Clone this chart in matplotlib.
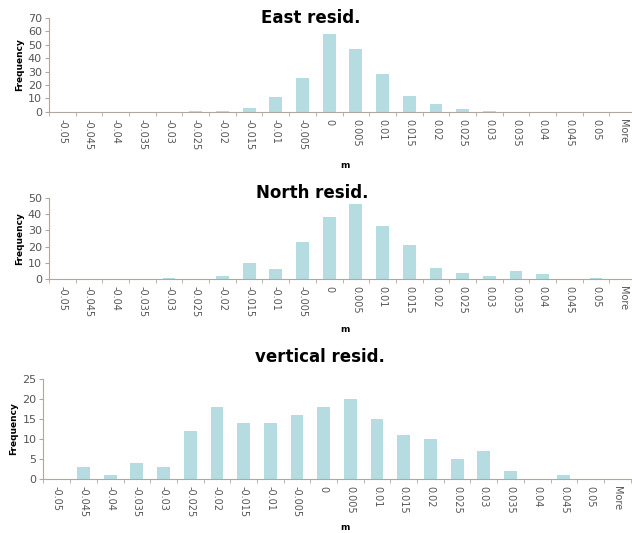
import numpy as np
import matplotlib.pyplot as plt

bins = ['-0.05', '-0.045', '-0.04', '-0.035', '-0.03', '-0.025', '-0.02',
        '-0.015', '-0.01', '-0.005', '0', '0.005', '0.01', '0.015', '0.02',
        '0.025', '0.03', '0.035', '0.04', '0.045', '0.05', 'More']

east = [0, 0, 0, 0, 0, 1, 0.5, 3, 11, 25, 58, 47, 28, 12, 6, 2, 1, 0, 0, 0, 0, 0]
north = [0, 0, 0, 0, 0.5, 0, 2, 10, 6, 23, 38, 46, 33, 21, 7, 4, 2, 5, 3, 0, 0.5, 0]
vert = [0, 3, 1, 4, 3, 12, 18, 14, 14, 16, 18, 20, 15, 11, 10, 5, 7, 2, 0, 1, 0, 0]

titles = ['East resid.', 'North resid.', 'vertical resid.']
ymax = [70, 50, 25]
ystep = [10, 10, 5]

bar_color = '#b5dde1'
axis_color = '#b0a8a0'
text_color = '#555555'

fig = plt.figure(figsize=(6.32, 5.33), dpi=100)

# axes rectangles, title and "m" label positions (figure fractions)
rects = [[0.0775, 0.790, 0.929, 0.1764],
         [0.0775, 0.4765, 0.929, 0.152],
         [0.0688, 0.1013, 0.929, 0.1876]]
title_xy = [(0.491, 0.966), (0.494, 0.638), (0.506, 0.330)]
m_xy = [(0.546, 0.690), (0.546, 0.381), (0.546, 0.010)]

x = np.arange(len(bins))
for data, title, ym, ys, r, txy, mxy in zip([east, north, vert], titles, ymax,
                                             ystep, rects, title_xy, m_xy):
    ax = fig.add_axes(r)
    ax.bar(x, data, width=0.48, color=bar_color)
    ax.set_xlim(-0.5, len(bins) - 0.5)
    ax.set_ylim(0, ym)
    ax.set_yticks(np.arange(0, ym + 1, ys))
    ax.set_xticks(x)
    ax.set_xticklabels(bins, rotation=-90, fontsize=7, color=text_color,
                       va='top', ha='center')
    ax.set_xticks(np.arange(-0.5, len(bins), 1), minor=True)
    ax.tick_params(axis='x', which='major', length=0, pad=5)
    ax.tick_params(axis='x', which='minor', length=3, color=axis_color,
                   direction='out')
    ax.tick_params(axis='y', length=3, color=axis_color, labelsize=8,
                   labelcolor=text_color, pad=2)
    for s in ['top', 'right']:
        ax.spines[s].set_visible(False)
    for s in ['left', 'bottom']:
        ax.spines[s].set_color(axis_color)
        ax.spines[s].set_linewidth(0.8)
    ax.set_ylabel('Frequency', fontsize=6.5, fontweight='bold', labelpad=3)
    fig.text(txy[0], txy[1], title, fontsize=12, fontweight='bold',
             ha='center', va='center')
    fig.text(mxy[0], mxy[1], 'm', fontsize=6.5, fontweight='bold',
             ha='center', va='center')

fig.savefig('out.png', dpi=100)
